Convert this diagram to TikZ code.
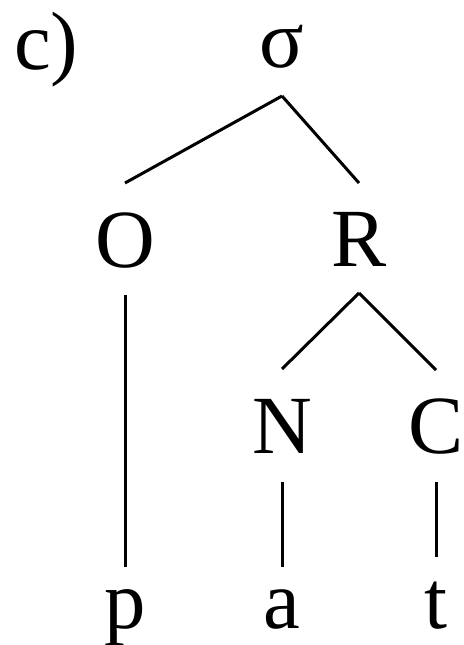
\documentclass[tikz,border=0pt]{standalone}
\usepackage{fontspec}
\setmainfont{Liberation Serif}
\newfontfamily\treefont{Liberation Serif}
\begin{document}
\begin{tikzpicture}[x=1bp,y=-1bp,
  lab/.style={anchor=base,inner sep=0pt,font=\treefont\fontsize{83}{90}\selectfont},
  br/.style={line width=3bp}]
\useasboundingbox (0,0) rectangle (464,645);
\node[lab,anchor=base west] (c) at (14,70) {c)};
\node[lab] (sig) at (282,68) {σ};
\node[lab] (O) at (125,267) {O};
\node[lab] (R) at (359,266) {R};
\node[lab] (N) at (282,453) {N};
\node[lab] (C) at (436,453) {C};
\node[lab] (p) at (125,628) {p};
\node[lab] (a) at (282,628) {a};
\node[lab] (t) at (436,628) {t};
\draw[br] ([yshift=-28bp]sig.base) -- ([yshift=84bp]O.base);
\draw[br] ([yshift=-28bp]sig.base) -- ([yshift=83bp]R.base);
\draw[br] ([yshift=-28bp]O.base) -- ([yshift=61bp]p.base);
\draw[br] ([yshift=-27bp]R.base) -- ([yshift=84bp]N.base);
\draw[br] ([yshift=-27bp]R.base) -- ([yshift=83bp]C.base);
\draw[br] ([yshift=-29bp]N.base) -- ([yshift=61bp]a.base);
\draw[br] ([yshift=-29bp]C.base) -- ([yshift=71bp]t.base);
\end{tikzpicture}
\end{document}
